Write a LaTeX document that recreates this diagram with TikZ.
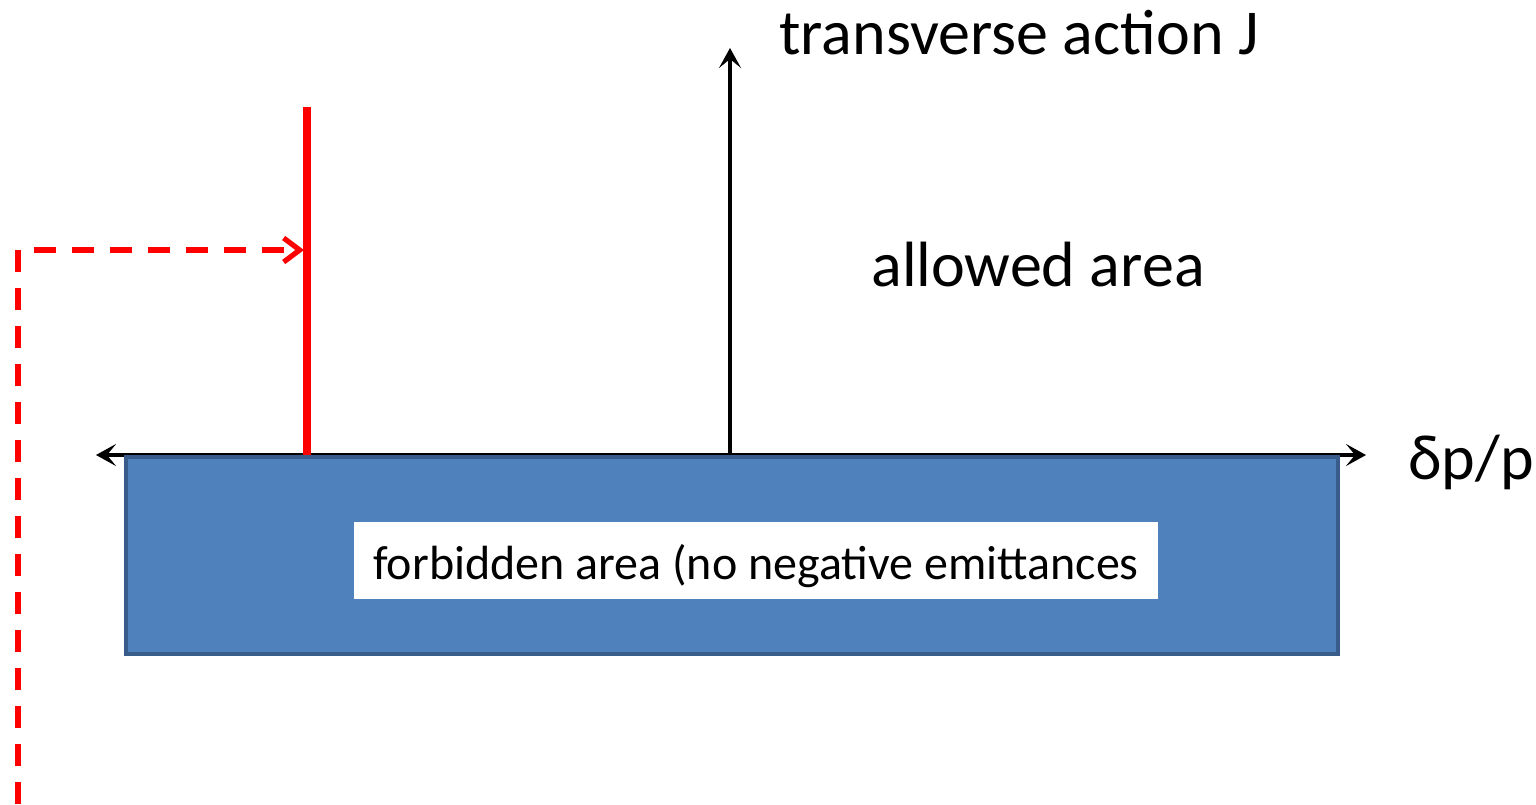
\documentclass[tikz,border=0pt]{standalone}
\usepackage{fontspec}
\setmainfont{Carlito}
\usetikzlibrary{arrows.meta}
\definecolor{boxblue}{HTML}{4F81BD}
\definecolor{boxedge}{HTML}{385D8A}
\definecolor{redline}{HTML}{FF0000}
\tikzset{
  axis/.style={line width=2pt, black},
  axistip/.style={-{Stealth[length=10pt,width=11pt,inset=4.5pt]}},
  bigtext/.style={font=\fontsize{32}{36}\selectfont, inner sep=0pt},
  smalltext/.style={font=\fontsize{24}{28}\selectfont, inner sep=0pt},
  barrier/.style={line width=4.3pt, redline},
  dashpath/.style={line width=2.6pt, redline, dash pattern=on 11pt off 8pt},
}
\begin{document}
\begin{tikzpicture}[x=0.5pt,y=-0.5pt]
\useasboundingbox (0,0) rectangle (1536,804);
% coordinates
\coordinate (hl) at (96,455);
\coordinate (hr) at (1366,455);
\coordinate (origin) at (730,455);
\coordinate (vtop) at (730,48);
\coordinate (redtop) at (307,107);
\coordinate (redbot) at (307,455);
\coordinate (dstart) at (18,804);
\coordinate (dcorner) at (18,250);
\coordinate (dend) at (304,250);
% horizontal axis
\draw[axis, {Stealth[length=10pt,width=11pt,inset=4.5pt]}-{Stealth[length=10pt,width=11pt,inset=4.5pt]}] (hl) -- (hr);
% forbidden block
\node[draw=boxedge, line width=1.8pt, fill=boxblue, minimum width=1212*0.5pt, minimum height=197*0.5pt, inner sep=0pt, anchor=north west] (block) at (124,455) {};
\node[fill=white, minimum width=804*0.5pt, minimum height=77*0.5pt, inner sep=0pt] (label) at (756,560.5) {};
\node[smalltext, anchor=base] (forb) at (756,579) {forbidden area (no negative emittances};
% vertical axis
\draw[axis, axistip] (origin) -- (vtop);
% red barrier
\draw[barrier] (redbot) -- (redtop);
% dashed path
\draw[dashpath, -{Straight Barb[length=8pt,width=12pt,line width=2.6pt]}] (dstart) -- (dcorner) -- (dend);
% texts
\node[bigtext, anchor=base west] (jlab) at (779,54) {transverse action J};
\node[bigtext, anchor=base] (allowed) at (1038,286) {allowed area};
\node[bigtext, anchor=base west] (dp) at (1408,479) {δp/p};
\end{tikzpicture}
\end{document}
